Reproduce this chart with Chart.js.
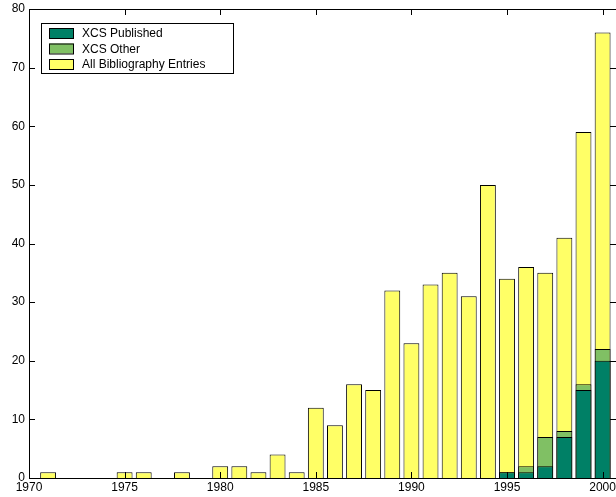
<!DOCTYPE html>
<html>
<head>
<meta charset="utf-8">
<title>XCS bibliography</title>
<script src="https://cdn.jsdelivr.net/npm/chart.js@4.4.1/dist/chart.umd.min.js"></script>
<style>
  html, body { margin: 0; padding: 0; background: #fff; }
  canvas { display: block; }
</style>
</head>
<body>
<canvas id="grafico" width="616" height="497"></canvas>
<script>
// anos e valores
const anos = [1970, 1971, 1972, 1973, 1974, 1975, 1976, 1977, 1978, 1979,
  1980, 1981, 1982, 1983, 1984, 1985, 1986, 1987, 1988, 1989,
  1990, 1991, 1992, 1993, 1994, 1995, 1996, 1997, 1998, 1999, 2000];
const todasEntradas = [0, 1, 0, 0, 0, 1, 1, 0, 1, 0,
  2, 2, 1, 4, 1, 12, 9, 16, 15, 32,
  23, 33, 35, 31, 50, 34, 36, 35, 41, 59, 76];
const xcsOutros = [0, 0, 0, 0, 0, 0, 0, 0, 0, 0,
  0, 0, 0, 0, 0, 0, 0, 0, 0, 0,
  0, 0, 0, 0, 0, 1, 2, 7, 8, 16, 22];
const xcsPublicados = [0, 0, 0, 0, 0, 0, 0, 0, 0, 0,
  0, 0, 0, 0, 0, 0, 0, 0, 0, 0,
  0, 0, 0, 0, 0, 1, 1, 2, 7, 15, 20];
const ticksX = [1970, 1975, 1980, 1985, 1990, 1995, 2000];
const ticksY = [0, 10, 20, 30, 40, 50, 60, 70, 80];

const fonte = { family: "'Liberation Sans', Arial, Helvetica, sans-serif", size: 12 };

function pontos(valores) {
  return anos.map((a, i) => ({ x: a, y: valores[i] }));
}

function serie(label, valores, cor) {
  return {
    label: label,
    data: pontos(valores),
    backgroundColor: cor,
    borderColor: "#000",
    borderWidth: 1,
    categoryPercentage: 1,
    barPercentage: 0.83
  };
}

// moldura, marcas internas e legenda
const moldura = {
  id: "moldura",
  afterDatasetsDraw(chart) {
    const { ctx, chartArea: a, scales } = chart;
    ctx.save();
    ctx.strokeStyle = "#000";
    ctx.lineWidth = 1;
    ctx.beginPath();
    ctx.rect(a.left + 0.5, a.top + 0.5, a.right - a.left, a.bottom - a.top);
    ticksX.forEach(t => {
      const px = Math.round(scales.x.getPixelForValue(t)) + 0.5;
      ctx.moveTo(px, a.bottom); ctx.lineTo(px, a.bottom - 6);
      ctx.moveTo(px, a.top); ctx.lineTo(px, a.top + 6);
    });
    ticksY.forEach(t => {
      const py = Math.round(scales.y.getPixelForValue(t)) + 0.5;
      ctx.moveTo(a.left, py); ctx.lineTo(a.left + 6, py);
      ctx.moveTo(a.right, py); ctx.lineTo(a.right - 6, py);
    });
    ctx.stroke();

    // legenda
    const lx = a.left + 12, ly = a.top + 14;
    ctx.fillStyle = "#fff";
    ctx.fillRect(lx, ly, 192, 50);
    ctx.strokeRect(lx + 0.5, ly + 0.5, 192, 50);
    ctx.font = "12px " + fonte.family;
    ctx.textBaseline = "middle";
    chart.data.datasets.forEach((ds, i) => {
      const cy = ly + 10 + i * 15.5;
      ctx.fillStyle = ds.backgroundColor;
      ctx.fillRect(lx + 8, cy - 5, 25, 10);
      ctx.strokeRect(lx + 8.5, cy - 4.5, 24, 10);
      ctx.fillStyle = "#000";
      ctx.fillText(ds.label, lx + 41, cy + 1);
    });
    ctx.restore();
  }
};

new Chart(document.getElementById("grafico"), {
  type: "bar",
  data: {
    datasets: [
      serie("XCS Published", xcsPublicados, "#008066"),
      serie("XCS Other", xcsOutros, "#80c064"),
      serie("All Bibliography Entries", todasEntradas, "#ffff66")
    ]
  },
  options: {
    responsive: false,
    animation: false,
    layout: { padding: { top: 9, right: 0, left: 0, bottom: 0 } },
    plugins: { legend: { display: false }, tooltip: { enabled: false } },
    scales: {
      x: {
        type: "linear",
        stacked: true,
        offset: false,
        min: 1970,
        max: 2000.7,
        grid: { display: false, drawTicks: false },
        border: { display: false },
        ticks: { font: fonte, color: "#000", padding: 2, maxRotation: 0, callback: v => String(v) },
        afterBuildTicks: s => { s.ticks = ticksX.map(v => ({ value: v })); },
        afterFit: s => { s.height = 19; s.paddingLeft = 0; s.paddingRight = 0; }
      },
      y: {
        stacked: false,
        min: 0,
        max: 80,
        grid: { display: false, drawTicks: false },
        border: { display: false },
        ticks: { font: fonte, color: "#000", padding: 4, callback: v => String(v) },
        afterBuildTicks: s => { s.ticks = ticksY.map(v => ({ value: v })); },
        afterFit: s => { s.width = 29; s.paddingTop = 0; s.paddingBottom = 0; }
      }
    }
  },
  plugins: [moldura]
});
</script>
</body>
</html>
